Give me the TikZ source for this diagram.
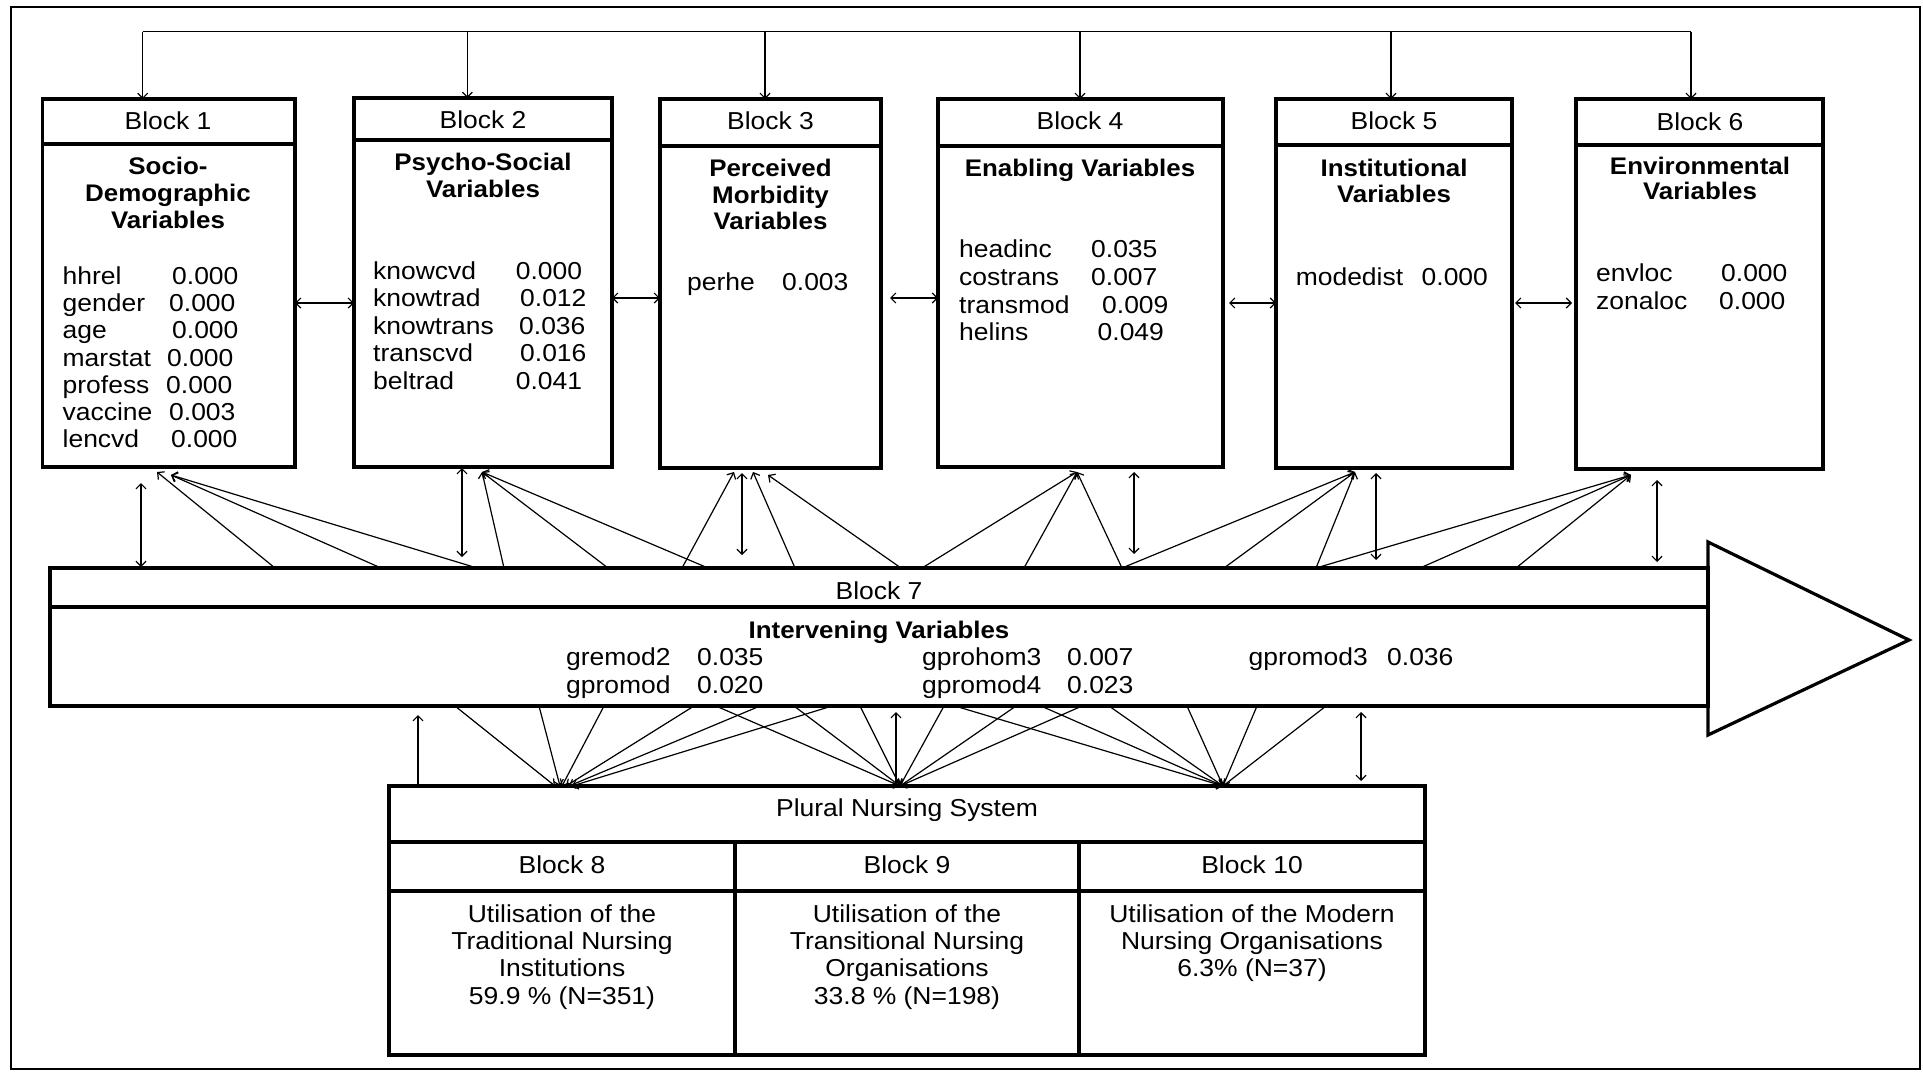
\documentclass[tikz,border=0pt]{standalone}
\usepackage{fontspec}
\setmainfont{Liberation Sans}[FakeStretch=1.08]
\usetikzlibrary{arrows.meta}
\newcommand\fnreg{\fontsize{24.5}{27.2}\selectfont}
\newcommand\fnbold{\fontsize{24}{27}\selectfont\bfseries}
\tikzset{
  box/.style={draw, line width=3.2pt, inner sep=0pt, outer sep=0pt, anchor=north west},
  hline/.style={line width=3.2pt},
  lt/.style={inner sep=0pt, anchor=base west, font=\fnreg, yshift=1.5pt},
  ct/.style={inner sep=0pt, anchor=base, font=\fnreg, yshift=1.5pt},
  bt/.style={inner sep=0pt, anchor=base, font=\fnbold, yshift=2.5pt},
  arr/.style={line width=1.2pt, -{Straight Barb[length=5pt,width=10pt]}},
  darr/.style={line width=1.2pt, {Straight Barb[length=5pt,width=10pt]}-{Straight Barb[length=5pt,width=10pt]}},
}
\begin{document}
\begin{tikzpicture}[x=1pt,y=-1pt]
\fill[white] (0,0) rectangle (1923,1072);
\useasboundingbox (0,0) rectangle (1923,1072);
\draw[line width=2pt] (11,7) rectangle (1920,1069);

% ---------- top blocks ----------
\node[box, minimum width=252.5pt, minimum height=368pt] (b1) at (42.5,99) {};
\node[box, minimum width=258pt, minimum height=369pt] (b2) at (354,98) {};
\node[box, minimum width=221pt, minimum height=369pt] (b3) at (660,99) {};
\node[box, minimum width=285pt, minimum height=368pt] (b4) at (938,99) {};
\node[box, minimum width=236pt, minimum height=369pt] (b5) at (1276,99) {};
\node[box, minimum width=247pt, minimum height=370pt] (b6) at (1576,99) {};
\draw[hline] (b1.west |- 0,144) -- (b1.east |- 0,144);
\draw[hline] (b2.west |- 0,140) -- (b2.east |- 0,140);
\draw[hline] (b3.west |- 0,146) -- (b3.east |- 0,146);
\draw[hline] (b4.west |- 0,146) -- (b4.east |- 0,146);
\draw[hline] (b5.west |- 0,145) -- (b5.east |- 0,145);
\draw[hline] (b6.west |- 0,145) -- (b6.east |- 0,145);

% block 1
\node[ct] (h1) at (168,131) {Block 1};
\node[bt] (t1a) at (168,177) {Socio-};
\node[bt] (t1b) at (168,204) {Demographic};
\node[bt] (t1c) at (168,231) {Variables};
\node[lt] (v1a) at (62.5,286) {hhrel};   \node[lt] (p1a) at (172,286) {0.000};
\node[lt] (v1b) at (62.5,313) {gender};  \node[lt] (p1b) at (169,313) {0.000};
\node[lt] (v1c) at (62.5,340) {age};     \node[lt] (p1c) at (172,340) {0.000};
\node[lt] (v1d) at (62.5,367.5) {marstat}; \node[lt] (p1d) at (167,367.5) {0.000};
\node[lt] (v1e) at (62.5,395) {profess}; \node[lt] (p1e) at (166,395) {0.000};
\node[lt] (v1f) at (62.5,422) {vaccine}; \node[lt] (p1f) at (169,422) {0.003};
\node[lt] (v1g) at (62.5,449) {lencvd};  \node[lt] (p1g) at (171,449) {0.000};

% block 2
\node[ct] (h2) at (483,130) {Block 2};
\node[bt] (t2a) at (483,173) {Psycho-Social};
\node[bt] (t2b) at (483,200) {Variables};
\node[lt] (v2a) at (373,281) {knowcvd};   \node[lt] (p2a) at (515.6,281) {0.000};
\node[lt] (v2b) at (373,308) {knowtrad};  \node[lt] (p2b) at (520,308) {0.012};
\node[lt] (v2c) at (373,336) {knowtrans}; \node[lt] (p2c) at (519,336) {0.036};
\node[lt] (v2d) at (373,363) {transcvd};  \node[lt] (p2d) at (520,363) {0.016};
\node[lt] (v2e) at (373,391) {beltrad};   \node[lt] (p2e) at (515.6,391) {0.041};

% block 3
\node[ct] (h3) at (770.5,131) {Block 3};
\node[bt] (t3a) at (770.5,179) {Perceived};
\node[bt] (t3b) at (770.5,206) {Morbidity};
\node[bt] (t3c) at (770.5,232) {Variables};
\node[lt] (v3a) at (687,292) {perhe}; \node[lt] (p3a) at (782,292) {0.003};

% block 4
\node[ct] (h4) at (1080,131) {Block 4};
\node[bt] (t4a) at (1080,179) {Enabling Variables};
\node[lt] (v4a) at (959,259) {headinc};  \node[lt] (p4a) at (1091,259) {0.035};
\node[lt] (v4b) at (959,287) {costrans}; \node[lt] (p4b) at (1091,287) {0.007};
\node[lt] (v4c) at (959,315) {transmod}; \node[lt] (p4c) at (1102,315) {0.009};
\node[lt] (v4d) at (959,342) {helins};   \node[lt] (p4d) at (1097.5,342) {0.049};

% block 5
\node[ct] (h5) at (1394,131) {Block 5};
\node[bt] (t5a) at (1394,179) {Institutional};
\node[bt] (t5b) at (1394,205) {Variables};
\node[lt] (v5a) at (1295.6,287) {modedist}; \node[lt] (p5a) at (1421.5,287) {0.000};

% block 6
\node[ct] (h6) at (1700,132) {Block 6};
\node[bt] (t6a) at (1700,177) {Environmental};
\node[bt] (t6b) at (1700,202) {Variables};
\node[lt] (v6a) at (1596,283) {envloc};  \node[lt] (p6a) at (1721,283) {0.000};
\node[lt] (v6b) at (1596,311) {zonaloc}; \node[lt] (p6b) at (1719,311) {0.000};

% ---------- top bus ----------
\coordinate (bus1) at (142.7,31.7);
\coordinate (bus2) at (467.4,31.7);
\coordinate (bus3) at (765,31.7);
\coordinate (bus4) at (1080,31.7);
\coordinate (bus5) at (1391,31.7);
\coordinate (bus6) at (1691,31.7);
\draw[line width=1.3pt] (bus1) -- (bus6);
\draw[arr] (bus1) -- (bus1 |- b1.north);
\draw[arr] (bus2) -- (bus2 |- b2.north);
\draw[arr] (bus3) -- (bus3 |- b3.north);
\draw[arr] (bus4) -- (bus4 |- b4.north);
\draw[arr] (bus5) -- (bus5 |- b5.north);
\draw[arr] (bus6) -- (bus6 |- b6.north);

% horizontal links between blocks
\draw[darr] (b1.east |- 0,303) -- (b2.west |- 0,303);
\draw[darr] (b2.east |- 0,298) -- (b3.west |- 0,298);
\draw[darr] (890,298) -- (b4.west |- 0,298);
\draw[darr] (1229,303) -- (b5.west |- 0,303);
\draw[darr] (1515,303) -- (1572,303);

% ---------- block 7 ----------
\node[box, minimum width=1658pt, minimum height=138pt] (b7) at (50,568) {};
\draw[hline] (b7.west |- 0,607) -- (b7.east |- 0,607);
\draw[line width=3.2pt, line join=miter] (1708,542) -- (1909,640) -- (1708,735) -- cycle;
\node[ct] (h7) at (879,601) {Block 7};
\node[bt] (t7a) at (879,641) {Intervening Variables};
\node[lt] (v7a) at (566,667) {gremod2};  \node[lt] (p7a) at (697,667) {0.035};
\node[lt] (v7b) at (566,695) {gpromod};  \node[lt] (p7b) at (697,695) {0.020};
\node[lt] (v7c) at (922,667) {gprohom3}; \node[lt] (p7c) at (1067,667) {0.007};
\node[lt] (v7d) at (922,695) {gpromod4}; \node[lt] (p7d) at (1067,695) {0.023};
\node[lt] (v7e) at (1248.5,667) {gpromod3}; \node[lt] (p7e) at (1387,667) {0.036};

% arrows from block 7 up to blocks 1-6
\coordinate (T1a) at (157,472);
\coordinate (T1b) at (171,475);
\coordinate (T2) at (482,472);
\coordinate (T3a) at (734,472);
\coordinate (T3b) at (753,472);
\coordinate (T3c) at (768,475);
\coordinate (T4) at (1077,472);
\coordinate (T5) at (1355,472);
\coordinate (T6) at (1631,475);
\foreach \s/\t in {275/T1a, 381/T1b, 477/T1b, 504/T2, 608/T2, 708/T2,
  682/T3a, 795/T3b, 901/T3c, 922/T4, 1024/T4, 1122/T4,
  1122/T5, 1224/T5, 1316/T5, 1316/T6, 1420/T6, 1516/T6}
  \draw[arr] (\s,0 |- b7.north) -- (\t);
\draw[darr] (141,483) -- (141,567);
\draw[darr] (462,468) -- (462,557);
\draw[darr] (742,473) -- (742,555);
\draw[darr] (1134,472) -- (1134,554);
\draw[darr] (1376,473) -- (1376,560);
\draw[darr] (1657,480) -- (1657,562);

% ---------- plural nursing system ----------
\node[box, minimum width=1036pt, minimum height=269pt] (pns) at (389,786) {};
\draw[hline] (pns.west |- 0,842) -- (pns.east |- 0,842);
\draw[hline] (pns.west |- 0,891) -- (pns.east |- 0,891);
\draw[hline] (735,842) -- (735,0 |- pns.south);
\draw[hline] (1079,842) -- (1079,0 |- pns.south);
\node[ct] (hp) at (907,818) {Plural Nursing System};
\node[ct] (h8) at (562,875) {Block 8};
\node[ct] (h9) at (907,875) {Block 9};
\node[ct] (h10) at (1252,875) {Block 10};
\node[ct] (u8a) at (562,924) {Utilisation of the};
\node[ct] (u8b) at (562,951) {Traditional Nursing};
\node[ct] (u8c) at (562,978) {Institutions};
\node[ct] (u8d) at (562,1006) {59.9 \% (N=351)};
\node[ct] (u9a) at (907,924) {Utilisation of the};
\node[ct] (u9b) at (907,951) {Transitional Nursing};
\node[ct] (u9c) at (907,978) {Organisations};
\node[ct] (u9d) at (907,1006) {33.8 \% (N=198)};
\node[ct] (u10a) at (1252,924) {Utilisation of the Modern};
\node[ct] (u10b) at (1252,951) {Nursing Organisations};
\node[ct] (u10c) at (1252,978) {6.3\% (N=37)};

% arrows from block 7 down to plural nursing system
\coordinate (F1a) at (555,786);
\coordinate (F1b) at (560,786);
\coordinate (F1c) at (562,786);
\coordinate (F1d) at (566,786);
\coordinate (F1e) at (569,786);
\coordinate (F1f) at (572,786);
\coordinate (F2) at (900,786);
\coordinate (F3) at (1223,786);
\foreach \s/\t in {455/F1a, 539/F1b, 604/F1c, 694/F1d, 760/F1e, 832/F1f,
  716/F2, 794/F2, 860/F2, 944/F2, 1016/F2, 1082/F2,
  955/F3, 1041/F3, 1109/F3, 1187/F3, 1257/F3, 1326/F3}
  \draw[arr] (\s,0 |- b7.south) -- (\t);
\draw[arr] (418,0 |- pns.north) -- (418,715);
\draw[arr] (896,0 |- pns.north) -- (896,712);
\draw[darr] (1361,712) -- (1361,781);
\end{tikzpicture}
\end{document}
